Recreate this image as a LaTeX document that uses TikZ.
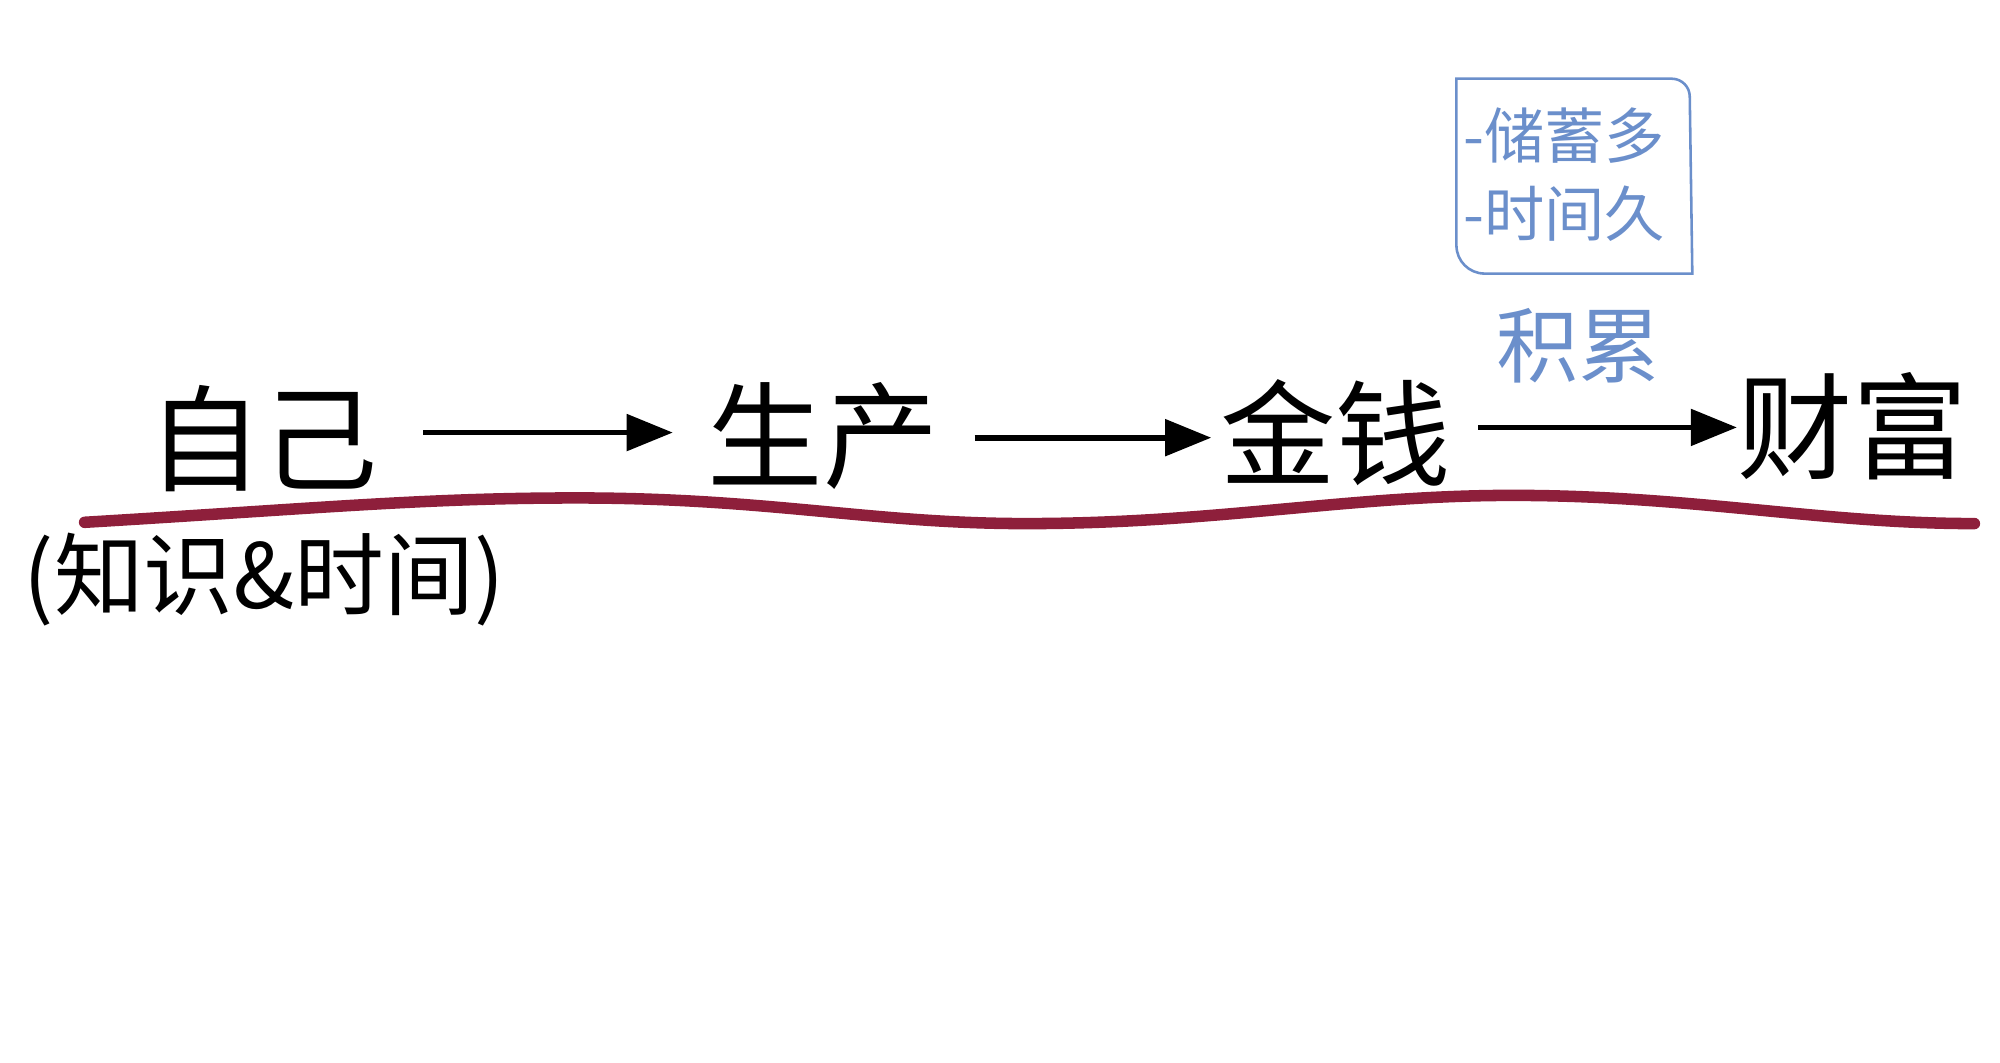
\documentclass[tikz,border=0pt]{standalone}
\usepackage{fontspec}
\setmainfont{Noto Sans CJK SC}
\usetikzlibrary{arrows.meta}
\definecolor{inkblue}{HTML}{6B8FCB}
\definecolor{wavered}{HTML}{8E1F3B}
\tikzset{
  word/.style={inner sep=0pt, font=\fontsize{90}{100}\selectfont},
  note/.style={inner sep=0pt, text=inkblue},
  arr/.style={line width=4.5, -{Triangle[length=36,width=28]}},
  boxline/.style={draw=inkblue, line width=2},
}
\begin{document}
\begin{tikzpicture}[x=1pt,y=1pt]
\useasboundingbox (0,0) rectangle (1560,828.4);
% main words
\node[word] (zj) at (205,486) {自己};
\node[word] (sc) at (642,488) {生产};
\node[word] (jq) at (1042,491) {金钱};
\node[word] (cf) at (1445,496) {财富};
% sub label
\node[inner sep=0pt, font=\fontsize{70}{76}\selectfont] (zs) at (206,376) {(知识\&时间)};
% arrows
\draw[arr, shorten <=35, shorten >=27] ([yshift=5]zj.east) -- ([yshift=5]zj.east -| sc.west);
\draw[arr, shorten <=28, shorten >=7] ([yshift=-1]sc.east) -- ([yshift=-1]sc.east -| jq.west);
\draw[arr, shorten <=21, shorten >=0] ([yshift=4]jq.east) -- ([yshift=4]jq.east -| cf.west);
% accumulate label
\node[note, font=\fontsize{64}{70}\selectfont] (jl) at (1231,559) {积累};
% note box
\node[note, anchor=west, align=left, font=\fontsize{47}{61}\selectfont] (nb) at (1141,692) {-储蓄多\\-时间久};
\draw[boxline] (1136,637) -- (1136,767) -- (1304,767) arc[start angle=90,end angle=0,radius=14] -- (1320,615) -- (1158,615) arc[start angle=270,end angle=180,radius=22] -- cycle;
% red wavy underline
\draw[wavered, line width=9, line cap=round]
  (66,421) .. controls (250,432) and (330,440) .. (450,440)
  .. controls (600,440) and (680,420) .. (800,420)
  .. controls (950,420) and (1050,442) .. (1180,442)
  .. controls (1320,442) and (1420,420) .. (1540,420);
\end{tikzpicture}
\end{document}
